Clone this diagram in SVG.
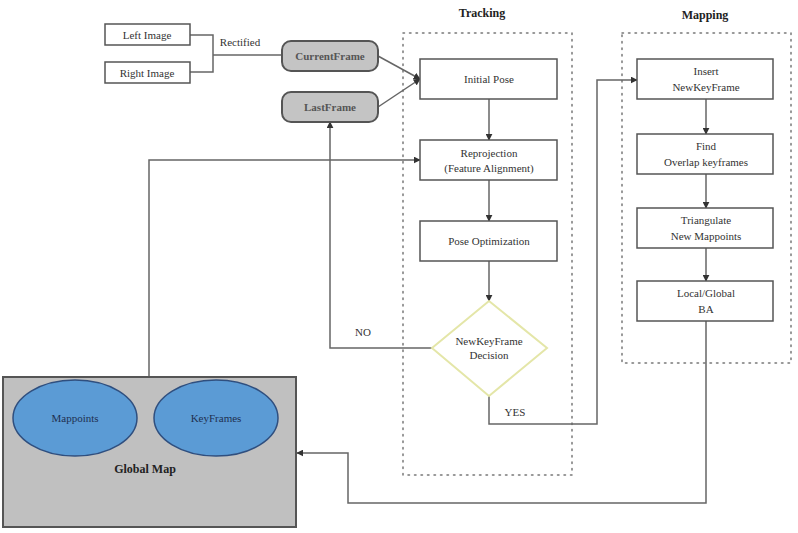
<svg xmlns="http://www.w3.org/2000/svg" width="798" height="533" viewBox="0 0 798 533">
<defs>
<marker id="ah" viewBox="0 0 10 10" refX="9" refY="5" markerWidth="7" markerHeight="7" markerUnits="userSpaceOnUse" orient="auto">
<path d="M0,0 L10,5 L0,10 z" fill="#333"/>
</marker>
<style>
.box{fill:#fff;stroke:#555;stroke-width:1.5}
.rbox{fill:#c4c4c4;stroke:#555;stroke-width:2}
.c{fill:none;stroke:#666;stroke-width:1.5}
.ca{fill:none;stroke:#666;stroke-width:1.5;marker-end:url(#ah)}
.dot{fill:none;stroke:#777;stroke-width:1.5;stroke-dasharray:1.5 5;stroke-linecap:round}
.ell{fill:#5b9bd5;stroke:#2f4f7f;stroke-width:1.5}
</style>
</defs>
<rect width="798" height="533" fill="#fff"/>

<g id="tracking-group">
<rect class="dot" x="403" y="33" width="169" height="442"/>
<text x="482" y="17" font-family="Liberation Serif, DejaVu Serif, serif" font-size="12" font-weight="bold" fill="#222" text-anchor="middle">Tracking</text>
</g>
<g id="mapping-group">
<rect class="dot" x="622" y="33" width="169" height="330"/>
<text x="705" y="19" font-family="Liberation Serif, DejaVu Serif, serif" font-size="12" font-weight="bold" fill="#222" text-anchor="middle">Mapping</text>
</g>

<g id="connectors">
<polyline class="c" points="190,35 213,35 213,72 190,72"/>
<line class="c" x1="213" y1="55" x2="282" y2="55"/>
<line class="ca" x1="378" y1="56" x2="420" y2="79"/>
<line class="ca" x1="378" y1="107" x2="420" y2="79"/>
<line class="ca" x1="489" y1="99" x2="489" y2="140"/>
<line class="ca" x1="489" y1="180" x2="489" y2="221"/>
<line class="ca" x1="489" y1="261" x2="489" y2="301"/>
<polyline class="ca" points="432,348 330,348 330,122"/>
<polyline class="ca" points="149,377 149,160 420,160"/>
<polyline class="ca" points="489,396 489,424 597,424 597,80 637,80"/>
<line class="ca" x1="706" y1="99" x2="706" y2="134"/>
<line class="ca" x1="706" y1="174" x2="706" y2="208"/>
<line class="ca" x1="706" y1="248" x2="706" y2="281"/>
<polyline class="ca" points="706,321 706,503 348,503 348,453 297,453"/>
<g font-family="Liberation Serif, DejaVu Serif, serif" font-size="11" fill="#333" text-anchor="middle">
<text x="240" y="46">Rectified</text>
<text x="363" y="336">NO</text>
<text x="515" y="416">YES</text>
</g>
</g>

<g font-family="Liberation Serif, DejaVu Serif, serif" font-size="11" fill="#333" text-anchor="middle">
<g id="left-image"><rect class="box" x="105" y="24" width="85" height="21"/><text x="147" y="39">Left Image</text></g>
<g id="right-image"><rect class="box" x="105" y="62" width="85" height="21"/><text x="147" y="77">Right Image</text></g>
<g id="current-frame"><rect class="rbox" x="282" y="41" width="96" height="30" rx="9"/><text x="330" y="60" font-weight="bold" fill="#555">CurrentFrame</text></g>
<g id="last-frame"><rect class="rbox" x="282" y="92" width="96" height="30" rx="9"/><text x="330" y="111" font-weight="bold" fill="#555">LastFrame</text></g>

<g id="initial-pose"><rect class="box" x="420" y="59" width="137" height="40"/><text x="489" y="83">Initial Pose</text></g>
<g id="reprojection"><rect class="box" x="420" y="140" width="137" height="40"/><text x="489" y="157">Reprojection</text><text x="489" y="172">(Feature Alignment)</text></g>
<g id="pose-optimization"><rect class="box" x="420" y="221" width="137" height="40"/><text x="489" y="245">Pose Optimization</text></g>
<g id="decision"><polygon points="489,301 547,348 489,396 432,348" fill="#fff" stroke="#e4e6a8" stroke-width="2"/><text x="489" y="345">NewKeyFrame</text><text x="489" y="359">Decision</text></g>

<g id="insert-keyframe"><rect class="box" x="637" y="59" width="136" height="40"/><text x="706" y="75">Insert</text><text x="706" y="91">NewKeyFrame</text></g>
<g id="find-overlap"><rect class="box" x="637" y="134" width="136" height="40"/><text x="706" y="150">Find</text><text x="706" y="166">Overlap keyframes</text></g>
<g id="triangulate"><rect class="box" x="637" y="208" width="136" height="40"/><text x="706" y="224">Triangulate</text><text x="706" y="240">New Mappoints</text></g>
<g id="local-global-ba"><rect class="box" x="637" y="281" width="136" height="40"/><text x="706" y="297">Local/Global</text><text x="706" y="313">BA</text></g>

<g id="global-map">
<rect x="3" y="377" width="293" height="150" fill="#c0c0c0" stroke="#555" stroke-width="2"/>
<ellipse class="ell" cx="75" cy="418" rx="62" ry="38"/>
<text x="75" y="422" fill="#1f3050">Mappoints</text>
<ellipse class="ell" cx="216" cy="418" rx="62" ry="38"/>
<text x="216" y="422" fill="#1f3050">KeyFrames</text>
<text x="145" y="473" font-size="12" font-weight="bold" fill="#222">Global Map</text>
</g>
</g>
</svg>
